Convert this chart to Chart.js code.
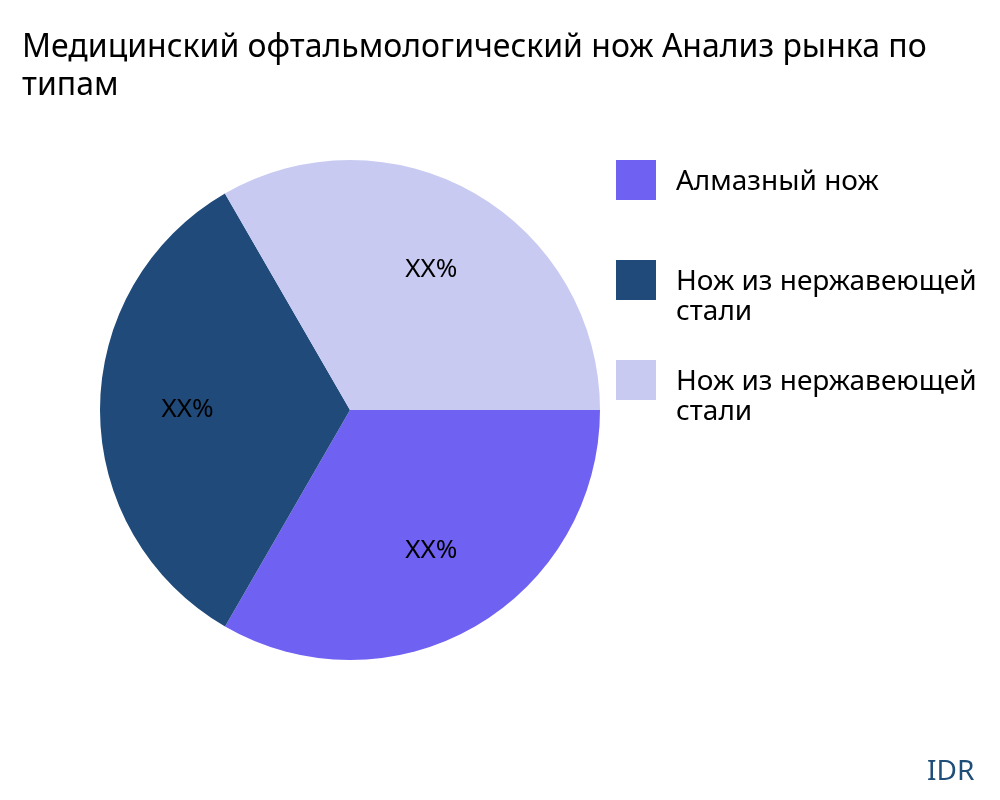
<!DOCTYPE html>
<html><head><meta charset="utf-8">
<script src="https://cdn.jsdelivr.net/npm/chart.js@4"></script>
<style>
body{margin:0;width:1000px;height:800px;overflow:hidden;background:#fff;font-family:"Noto Sans",sans-serif;position:relative}
#t{position:absolute;left:22px;top:26px;font-size:32px;line-height:38px;white-space:nowrap;color:#000}
.lg{position:absolute;left:616px;white-space:nowrap;font-size:28px;line-height:30px}
.lg span{position:absolute;left:0;top:0;width:40px;height:40px}
.lg div{position:absolute;left:60px;top:4px}
#idr{position:absolute;left:927px;top:750px;font-size:28px;color:#1f4e79}
canvas{position:absolute;left:0;top:0}
</style></head><body>
<canvas id="c" width="1000" height="800"></canvas>
<div id="t">Медицинский офтальмологический нож Анализ рынка по<br>типам</div>
<div id="legend"></div>
<div id="idr">IDR</div>
<script>
const categories=["Алмазный нож","Нож из нержавеющей стали","Нож из нержавеющей стали"];
const legendLines=[["Алмазный нож"],["Нож из нержавеющей","стали"],["Нож из нержавеющей","стали"]];
const values=[33.33,33.33,33.34];
const labels=["XX%","XX%","XX%"];
const colors=["#6f61f2","#1f4a7a","#c8caf2"];
const lg=document.getElementById('legend');
legendLines.forEach((l,i)=>{const d=document.createElement('div');d.className='lg';d.style.top=(160+i*100)+'px';
d.innerHTML='<span style="background:'+colors[i]+'"></span><div>'+l.join('<br>')+'</div>';lg.appendChild(d);});
const lbl={id:'lbl',afterDatasetsDraw(ch){const ctx=ch.ctx;ch.getDatasetMeta(0).data.forEach((a,i)=>{
const m=(a.startAngle+a.endAngle)/2,r=a.outerRadius*0.65;ctx.save();ctx.font='26px "Noto Sans"';ctx.fillStyle='#000';
ctx.textAlign='center';ctx.textBaseline='middle';ctx.fillText(labels[i],a.x+Math.cos(m)*r,a.y+Math.sin(m)*r);ctx.restore();});}};
new Chart(document.getElementById('c'),{type:'pie',data:{labels:categories,datasets:[{data:values,backgroundColor:colors,borderWidth:0}]},
options:{responsive:false,animation:false,rotation:90,layout:{padding:{left:100,top:160,right:400,bottom:140}},
plugins:{legend:{display:false},tooltip:{enabled:false}}},plugins:[lbl]});
</script></body></html>
